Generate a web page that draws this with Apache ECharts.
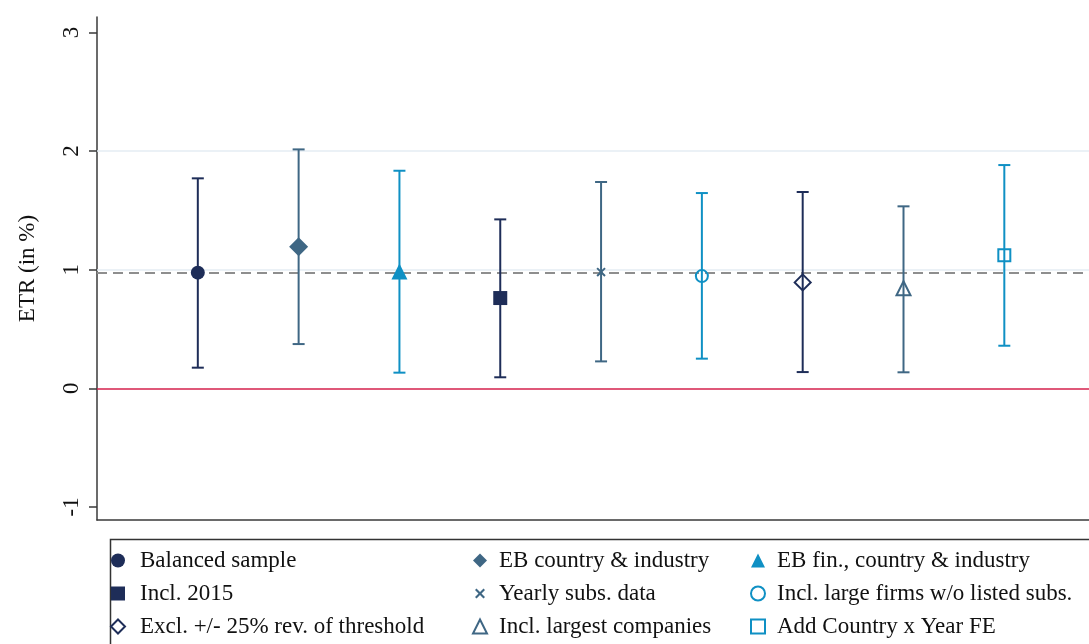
<!DOCTYPE html>
<html>
<head>
<meta charset="utf-8">
<script src="https://cdn.jsdelivr.net/npm/echarts@6/dist/echarts.min.js"></script>
<style>
  html, body { margin: 0; padding: 0; background: #fff; }
  #chart { width: 1089px; height: 644px; }
</style>
</head>
<body>
<div id="chart"></div>
<script>
// Specification names, in plotting order
const specs = [
  'Balanced sample',
  'EB country & industry',
  'EB fin., country & industry',
  'Incl. 2015',
  'Yearly subs. data',
  'Incl. large firms w/o listed subs.',
  'Excl. +/- 25% rev. of threshold',
  'Incl. largest companies',
  'Add Country x Year FE'
];
// Point estimates and confidence bounds (ETR, in %)
const estimates = [0.975, 1.193, 0.985, 0.761, 0.980, 0.946, 0.893, 0.843, 1.121];
const lowerCI   = [0.174, 0.373, 0.132, 0.093, 0.227, 0.250, 0.137, 0.135, 0.359];
const upperCI   = [1.770, 2.014, 1.834, 1.424, 1.739, 1.646, 1.655, 1.534, 1.882];
// Reference lines
const baselineEstimate = 0.975;
const zeroLine = 0;
const gridValues = [1, 2];
// Y-axis tick labels
const yTicks = [-1, 0, 1, 2, 3];

// Legend columns
const legendCols = [
  ['Balanced sample', 'Incl. 2015', 'Excl. +/- 25% rev. of threshold'],
  ['EB country & industry', 'Yearly subs. data', 'Incl. largest companies'],
  ['EB fin., country & industry', 'Incl. large firms w/o listed subs.', 'Add Country x Year FE']
];

const NAVY = '#1e2d58';
const SLATE = '#3f6784';
const CYAN = '#0f90c4';
const colors = [NAVY, SLATE, CYAN, NAVY, SLATE, CYAN, NAVY, SLATE, CYAN];

// X-shaped marker; the empty corner sub-paths keep it smaller than its box
const crossPath = 'path://M-2,-2L-2,-2ZM12,12L12,12ZM0,1.5L1.5,0L5,3.5L8.5,0L10,1.5L6.5,5L10,8.5L8.5,10L5,6.5L1.5,10L0,8.5L3.5,5Z';
const symbols = ['circle', 'diamond', 'triangle', 'rect', crossPath, 'circle', 'diamond', 'triangle', 'rect'];
const hollow = [false, false, false, false, false, true, true, true, true];
const sizes = [14, 19, 16, 14, 13, 12, 16, 14, 12];

const serif = '"Liberation Serif", "DejaVu Serif", serif';
const FS = 23;

const series = [];

// Confidence interval whiskers
series.push({
  type: 'custom',
  name: 'ci',
  z: 3,
  silent: true,
  encode: { x: 0, y: [1, 2] },
  data: estimates.map((_, i) => [i + 1, lowerCI[i], upperCI[i]]),
  renderItem: function (params, api) {
    const x = api.value(0);
    const top = api.coord([x, api.value(2)]);
    const bot = api.coord([x, api.value(1)]);
    const c = colors[params.dataIndex];
    const half = 6;
    const st = { stroke: c, lineWidth: 2 };
    return {
      type: 'group',
      children: [
        { type: 'line', shape: { x1: top[0], y1: top[1], x2: bot[0], y2: bot[1] }, style: st },
        { type: 'line', shape: { x1: top[0] - half, y1: top[1], x2: top[0] + half, y2: top[1] }, style: st },
        { type: 'line', shape: { x1: bot[0] - half, y1: bot[1], x2: bot[0] + half, y2: bot[1] }, style: st }
      ]
    };
  },
  markLine: {
    silent: true,
    symbol: 'none',
    label: { show: false },
    z: 1,
    data: [
      ...gridValues.map(v => ({ yAxis: v, lineStyle: { color: '#e4edf3', width: 1.5, type: 'solid', opacity: 1 } })),
      { yAxis: zeroLine, lineStyle: { color: '#d4204c', width: 1.5, type: 'solid', opacity: 1 } },
      { yAxis: baselineEstimate, lineStyle: { color: '#8e8e8e', width: 2, type: [10, 6], opacity: 1 } }
    ]
  }
});

// Point estimates, one series per specification
specs.forEach((name, i) => {
  series.push({
    type: 'scatter',
    name: name,
    z: 5,
    symbol: symbols[i],
    symbolSize: sizes[i],
    data: [[i + 1, estimates[i]]],
    itemStyle: hollow[i]
      ? { color: 'rgba(255,255,255,0)', borderColor: colors[i], borderWidth: 2, opacity: 1 }
      : { color: colors[i], opacity: 1 }
  });
});

const legends = legendCols.map((col, k) => ({
  orient: 'vertical',
  left: [110, 472, 750][k],
  top: 549,
  padding: 0,
  itemGap: 10,
  itemWidth: 14,
  itemHeight: 14,
  selectedMode: false,
  data: col,
  textStyle: {
    fontFamily: serif,
    fontSize: FS,
    color: '#111',
    lineHeight: 23,
    padding: [0, 0, 0, [10, 7, 7][k]]
  }
}));

const chart = echarts.init(document.getElementById('chart'), null, { renderer: 'canvas' });
chart.setOption({
  animation: false,
  backgroundColor: '#fff',
  grid: { left: 97, right: 0, top: 17, bottom: 124, containLabel: false },
  xAxis: {
    type: 'value',
    min: 0,
    max: 9.84,
    axisLine: { show: true, onZero: false, lineStyle: { color: '#3a3a3a', width: 1.5 } },
    axisTick: { show: false },
    axisLabel: { show: false },
    splitLine: { show: false }
  },
  yAxis: {
    type: 'value',
    min: -1.11,
    max: 3.13,
    name: 'ETR (in %)',
    nameLocation: 'middle',
    nameRotate: 90,
    nameGap: 58,
    nameTextStyle: { fontFamily: serif, fontSize: FS, color: '#111' },
    axisLine: { show: true, lineStyle: { color: '#3a3a3a', width: 1.5 } },
    axisTick: { show: true, length: 8, customValues: yTicks, lineStyle: { color: '#3a3a3a', width: 1.5 } },
    axisLabel: {
      customValues: yTicks,
      rotate: 90,
      margin: 14,
      fontFamily: serif,
      fontSize: FS,
      color: '#111'
    },
    splitLine: { show: false }
  },
  legend: legends,
  graphic: [{
    type: 'rect',
    left: 108,
    top: 537,
    shape: { width: 1000, height: 130 },
    style: { fill: 'none', stroke: '#333', lineWidth: 1.5 },
    silent: true,
    z: -1
  }],
  series: series
});
</script>
</body>
</html>
